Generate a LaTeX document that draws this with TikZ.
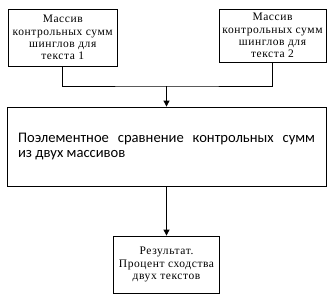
\documentclass[tikz,border=0pt]{standalone}
\usepackage{fontspec}
\setmainfont[LetterSpace=5]{Liberation Serif}
\newfontfamily\calib{Carlito}
\usepackage{tikz}
\usetikzlibrary{arrows.meta,positioning}

\begin{document}
\begin{tikzpicture}[x=1pt, y=-1pt, line width=0.8pt,
    box/.style={draw, inner sep=0pt, align=center, font=\fontsize{11.5}{12.2}\selectfont},
    arr/.style={-{Triangle[length=6pt, width=6pt]}}]
  \useasboundingbox (0,0) rectangle (332,298);
  \node[box, minimum width=108.5pt, minimum height=57pt] (mas1) at (62.75,37.5)
    {Массив\\контрольных сумм\\шинглов для\\текста 1};
  \node[box, minimum width=107pt, minimum height=53pt] (mas2) at (272.5,35.5)
    {Массив\\контрольных сумм\\шинглов для\\текста 2};
  \node[box, minimum width=319pt, minimum height=79pt, text width=297pt, align=justify,
    font=\calib\fontsize{14.6}{15}\selectfont] (cmp) at (166.5,146.5)
    {Поэлементное сравнение контрольных сумм\linebreak из двух массивов};
  \node[box, minimum width=106pt, minimum height=57pt] (res) at (166.5,264.5)
    {Результат.\\Процент сходства\\двух текстов};
  \coordinate (joint) at (166.5,86);
  \draw (mas1.south) |- (joint) -| (mas2.south);
  \draw[arr] (joint) -- (cmp.north);
  \draw[arr] (cmp.south) -- (res.north);
\end{tikzpicture}
\end{document}
